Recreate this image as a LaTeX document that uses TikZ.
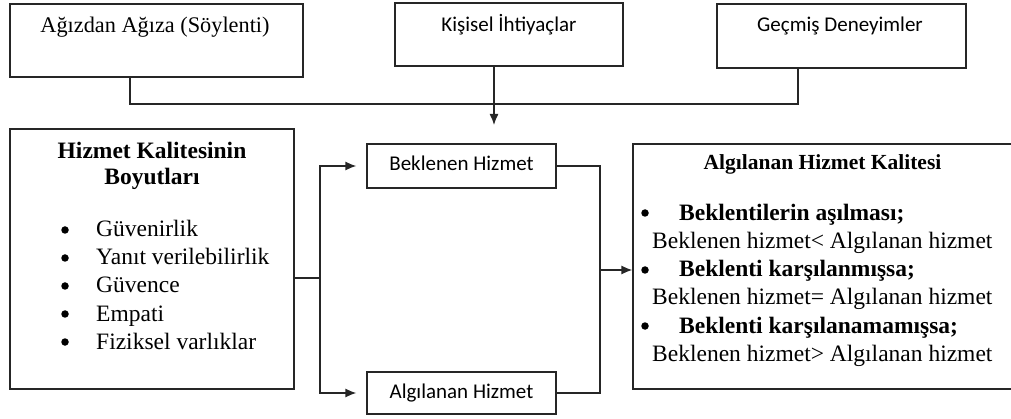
\documentclass[tikz,border=0pt]{standalone}
\usepackage{fontspec}
\setmainfont{Liberation Serif}
\newfontfamily\calibrifont{Carlito}
\usetikzlibrary{arrows.meta,positioning}

\begin{document}
\begin{tikzpicture}[x=1pt,y=-1pt,
  kutu/.style={draw=black!85,line width=1.3pt,inner sep=0pt},
  yazi/.style={font=\fontsize{23.5}{28}\selectfont,inner sep=0pt,anchor=base},
  kalin/.style={font=\fontsize{23.5}{28}\selectfont\bfseries,inner sep=0pt,anchor=base},
  imlec/.style={circle,fill=black,inner sep=0pt,minimum size=7.5pt},
  sans/.style={font=\calibrifont\fontsize{21}{25}\selectfont,inner sep=0pt,text height=14pt,text depth=4pt},
  cizgi/.style={draw=black!85,line width=1.3pt},
  ok/.style={-{Latex[length=11pt,width=9pt]}}]
\useasboundingbox (0,0) rectangle (1011,419);

% ust kutular
\node[kutu,minimum width=293pt,minimum height=73pt] (agiz) at (156.5,40.5) {};
\node[kutu,minimum width=228pt,minimum height=63pt] (kisisel) at (509,34.5) {};
\node[kutu,minimum width=249pt,minimum height=64pt] (gecmis) at (841.5,36) {};
\node[yazi,font=\fontsize{22.3}{26}\selectfont] (agizt) at (155,33) {Ağızdan Ağıza (Söylenti)};
\node[sans,anchor=base] (kisiselt) at (509,32) {Kişisel İhtiyaçlar};
\node[sans,anchor=base] (gecmist) at (840,32) {Geçmiş Deneyimler};

% orta kutular
\node[kutu,minimum width=284pt,minimum height=260pt] (boyut) at (152,259) {};
\node[kutu,sans,minimum width=189pt,minimum height=44pt] (beklenen) at (461.5,166) {Beklenen Hizmet};
\node[kutu,sans,minimum width=189pt,minimum height=42pt] (algilanan) at (461.5,393) {Algılanan Hizmet};
\node[kutu,minimum width=387pt,minimum height=245pt] (kalite) at (826.5,266.5) {};

% boyutlar
\node[kalin] (boyutt1) at (152,159) {Hizmet Kalitesinin};
\node[kalin] (boyutt2) at (152,185) {Boyutları};
\foreach \i/\t in {0/Güvenirlik,1/Yanıt verilebilirlik,2/Güvence,3/Empati,4/Fiziksel varlıklar}{
  \node[imlec] (nokta\i) at (65,230+28*\i) {};
  \node[yazi,anchor=base west] (madde\i) at (96,237+28*\i) {\t};
}

% kalite
\node[kalin,font=\fontsize{21.5}{26}\selectfont\bfseries] (kalitet) at (822.5,170) {Algılanan Hizmet Kalitesi};
\node[imlec] (knokta1) at (645,213) {};
\node[kalin,anchor=base west] (kbas1) at (679,221) {Beklentilerin aşılması;};
\node[yazi,anchor=base west] (ksat1) at (652,249) {Beklenen hizmet< Algılanan hizmet};
\node[imlec] (knokta2) at (645,270) {};
\node[kalin,anchor=base west] (kbas2) at (679,277) {Beklenti karşılanmışsa;};
\node[yazi,anchor=base west] (ksat2) at (652,305) {Beklenen hizmet= Algılanan hizmet};
\node[imlec] (knokta3) at (645,326) {};
\node[kalin,anchor=base west] (kbas3) at (679,334) {Beklenti karşılanamamışsa;};
\node[yazi,anchor=base west] (ksat3) at (652,361) {Beklenen hizmet> Algılanan hizmet};

% baglantilar
\coordinate (c1) at (130,104);
\coordinate (c2) at (798,104);
\coordinate (c3) at (494,125);
\coordinate (c4) at (320,278);
\coordinate (c5) at (600,270);
\draw[cizgi] (agiz.south -| c1) -- (c1) -- (c2) -- (gecmis.south -| c2);
\draw[cizgi,ok] (kisisel.south -| c3) -- (c3);
\draw[cizgi] (c4 -| boyut.east) -- (c4);
\draw[cizgi,ok,shorten >=10pt] (c4) |- (beklenen.west);
\draw[cizgi,ok,shorten >=10pt] (c4) |- (algilanan.west);
\draw[cizgi] (beklenen.east) -| (c5) |- (algilanan.east);
\draw[cizgi,ok] (c5) -- (c5 -| kalite.west);
\end{tikzpicture}
\end{document}
